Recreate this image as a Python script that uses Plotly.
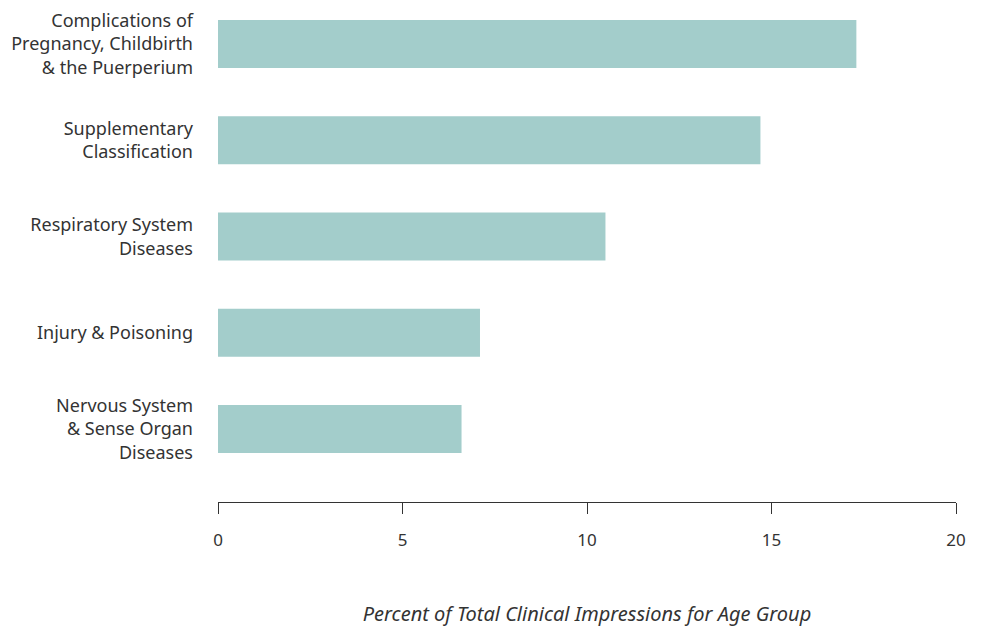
import plotly.graph_objects as go

categories = [
    "Complications of<br>Pregnancy, Childbirth<br>& the Puerperium",
    "Supplementary<br>Classification",
    "Respiratory System<br>Diseases",
    "Injury & Poisoning",
    "Nervous System<br>& Sense Organ<br>Diseases",
]
values = [17.3, 14.7, 10.5, 7.1, 6.6]
x_ticks = [0, 5, 10, 15, 20]

positions = list(range(len(categories)))

fig = go.Figure(go.Bar(
    x=values,
    y=positions,
    orientation="h",
    width=0.5,
    marker=dict(color="#A3CDCB", line=dict(width=0)),
))

font_family = "Noto Sans, Open Sans, sans-serif"

fig.update_layout(
    width=982, height=628,
    margin=dict(l=218, r=26, t=20, b=126),
    paper_bgcolor="white", plot_bgcolor="white",
    font=dict(family=font_family, size=17, color="#333333"),
    showlegend=False,
    xaxis=dict(
        range=[0, 20],
        tickvals=x_ticks,
        showgrid=False, zeroline=False,
        showline=True, linecolor="#333333", linewidth=1,
        ticks="outside", ticklen=11, tickcolor="#333333", tickwidth=1,
        ticklabelstandoff=12,
        tickfont=dict(size=17),
        automargin=False,
        title=dict(text="<i>Percent of Total Clinical Impressions for Age Group</i>",
                   font=dict(size=20), standoff=56),
    ),
    yaxis=dict(
        range=[4.758, -0.25],
        tickvals=positions, ticktext=categories,
        showgrid=False, zeroline=False, showline=False,
        ticks="", ticklabelstandoff=24,
        tickfont=dict(size=18),
        automargin=False,
    ),
)

fig.write_html(
    "out.html",
    config={"displayModeBar": False},
    post_script="document.body.style.margin='0';document.body.style.overflow='hidden';",
)
